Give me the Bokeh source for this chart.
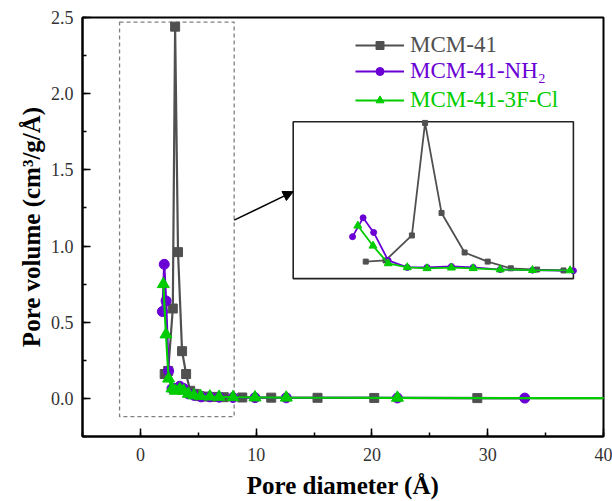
from bokeh.plotting import figure
from bokeh.models import (Range1d, Legend, LegendItem, Arrow, NormalHead,
                          SingleIntervalTicker, NumeralTickFormatter)
from bokeh.embed import file_html
from bokeh.resources import INLINE

# ---------------- data ----------------
mcm_x = [2.1, 2.4, 2.8, 3.0, 3.25, 3.6, 3.95, 4.3, 4.7, 5.1, 5.7, 6.4, 7.2, 8.8, 11.3, 15.3, 20.2, 29.1, 45]
mcm_y = [0.16, 0.18, 0.59, 2.44, 0.96, 0.31, 0.16, 0.05, 0.03, 0.015, 0.012, 0.01, 0.008, 0.006, 0.005, 0.004, 0.003, 0.002, 0.001]

nh2_x = [1.9, 2.06, 2.22, 2.44, 2.73, 3.03, 3.4, 3.73, 4.14, 4.63, 5.25, 6.0, 6.8, 8.0, 9.9, 12.6, 22.2, 33.2]
nh2_y = [0.57, 0.88, 0.64, 0.18, 0.065, 0.065, 0.08, 0.065, 0.03, 0.02, 0.01, 0.01, 0.008, 0.006, 0.005, 0.004, 0.003, 0.002]

fcl_x = [1.98, 2.21, 2.44, 2.73, 3.03, 3.4, 3.73, 4.14, 4.63, 5.2, 6.0, 6.8, 8.0, 9.9, 12.6, 22.2, 48]
fcl_y = [0.75, 0.42, 0.13, 0.065, 0.05, 0.06, 0.05, 0.03, 0.02, 0.015, 0.012, 0.01, 0.008, 0.006, 0.005, 0.004, 0.0]

labels = ["MCM-41", "MCM-41-NH\u2082", "MCM-41-3F-Cl"]
colors = ["#505050", "#6A00D4", "#00CC00"]

# ---------------- layout constants ----------------
X0, X1 = -5, 40
Y0, Y1 = -0.25, 2.5
# inset: zoomed data window and its box in main-axis coordinates
IX0, IX1, IY0, IY1 = 1.0, 5.25, -0.12, 2.46
BX0, BX1, BY0, BY1 = 13.2, 37.4, 0.786, 1.816

SERIF = "Liberation Serif"

p = figure(width=612, height=501, output_backend="svg", toolbar_location=None,
           x_range=Range1d(X0, X1), y_range=Range1d(Y0, Y1),
           min_border_left=82, min_border_right=9, min_border_top=17,
           min_border_bottom=62)
p.grid.visible = False
p.background_fill_color = "white"
p.outline_line_color = "black"
p.outline_line_width = 2

for ax in (p.xaxis[0], p.yaxis[0]):
    ax.axis_line_width = 2
    ax.major_tick_line_width = 1.5
    ax.minor_tick_line_width = 1.5
    ax.major_tick_in = 8
    ax.major_tick_out = 0
    ax.minor_tick_in = 4
    ax.minor_tick_out = 0
    ax.major_label_text_font = SERIF
    ax.major_label_text_font_size = "18px"
    ax.major_label_text_color = "#333333"
    ax.axis_label_text_font = SERIF
    ax.axis_label_text_font_style = "bold"
    ax.axis_label_text_font_size = "25px"
    ax.axis_label_text_color = "black"

p.xaxis.ticker = SingleIntervalTicker(interval=10, num_minor_ticks=2)
p.yaxis.ticker = SingleIntervalTicker(interval=0.5, num_minor_ticks=2)
p.yaxis.formatter = NumeralTickFormatter(format="0.0")
p.xaxis.axis_label = "Pore diameter (\u00c5)"
p.yaxis.axis_label = "Pore volume (cm\u00b3/g/\u00c5)"
p.xaxis.major_label_standoff = 11
p.yaxis.major_label_standoff = 9
p.xaxis.axis_label_standoff = 8
p.yaxis.axis_label_standoff = 3

# dashed selection box
p.quad(left=[-1.8], right=[8.1], bottom=[-0.12], top=[2.47], fill_alpha=0,
       line_color="#808080", line_dash="4 3", line_width=1.3)

# main series
series = [(mcm_x, mcm_y, "square", 9), (nh2_x, nh2_y, "circle", 10), (fcl_x, fcl_y, "triangle", 12)]
rends = []
for (xs, ys, mk, sz), c in zip(series, colors):
    lr = p.line(xs, ys, line_color=c, line_width=2.2)
    mr = p.scatter(xs, ys, marker=mk, size=sz, fill_color=c, line_color=c)
    rends.append((lr, mr))

# inset via extra ranges
sx = (IX1 - IX0) / (BX1 - BX0)
sy = (IY1 - IY0) / (BY1 - BY0)
p.extra_x_ranges = {"ix": Range1d(IX0 - (BX0 - X0) * sx, IX1 + (X1 - BX1) * sx)}
p.extra_y_ranges = {"iy": Range1d(IY0 - (BY0 - Y0) * sy, IY1 + (Y1 - BY1) * sy)}

p.quad(left=[BX0], right=[BX1], bottom=[BY0], top=[BY1], fill_color="white",
       line_color="#222222", line_width=1.6)

for (xs, ys, mk, sz), c in zip(series, colors):
    xi = [x for x in xs if x <= IX1 + 0.01]
    yi = [y for x, y in zip(xs, ys) if x <= IX1 + 0.01]
    p.line(xi, yi, line_color=c, line_width=1.8, x_range_name="ix", y_range_name="iy")
    p.scatter(xi, yi, marker=mk, size=max(sz - 4, 5), fill_color=c, line_color=c,
              x_range_name="ix", y_range_name="iy")

# arrow from dashed box to inset
p.add_layout(Arrow(end=NormalHead(size=10, fill_color="black", line_color="black"),
                   x_start=8.1, y_start=1.17, x_end=BX0, y_end=1.357,
                   line_color="black", line_width=1.5))

# legends (one per series, to colour each label)
row_y = [378, 352, 323]
for (lr, mr), lab, c, ly in zip(rends, labels, colors, row_y):
    lg = Legend(items=[LegendItem(label=lab, renderers=[lr, mr])],
                location=(273, ly), padding=0, margin=0, spacing=0,
                glyph_width=49, glyph_height=20, label_height=20,
                label_standoff=6, border_line_alpha=0, background_fill_alpha=0,
                label_text_font=SERIF, label_text_font_size="23px",
                label_text_color=c)
    p.add_layout(lg)

open("out.html", "w").write(file_html(p, INLINE))
